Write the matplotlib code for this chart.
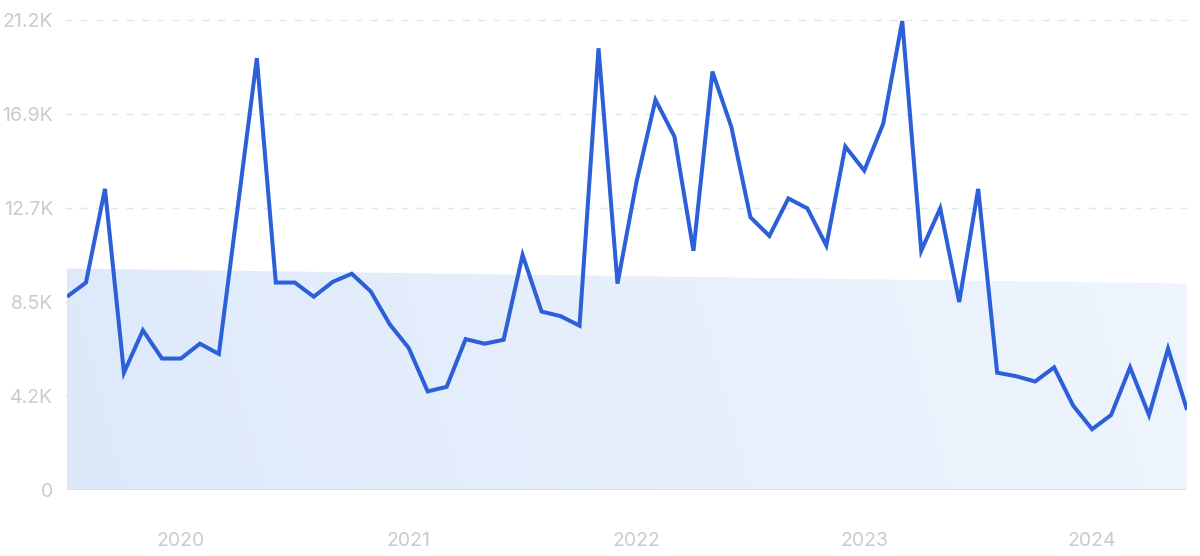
import numpy as np
import matplotlib
matplotlib.use("Agg")
import matplotlib.pyplot as plt
from matplotlib.patches import Polygon
from matplotlib.colors import LinearSegmentedColormap

# ---- data (monthly, Jul 2019 .. Jun 2024) ----
values = [8719, 9357, 13581, 5292, 7205, 5930, 5930, 6599, 6137, 12800,
          19479, 9357, 9357, 8719, 9389, 9755, 8958, 7476, 6408, 4447,
          4654, 6806, 6599, 6775, 10600, 8050, 7842, 7412, 19925, 9309,
          13900, 17598, 15940, 10791, 18873, 16370, 12306, 11461, 13151, 12704,
          11030, 15494, 14410, 16530, 21152, 10791, 12704, 8480, 13581, 5292,
          5133, 4894, 5531, 3810, 2742, 3379, 5531, 3379, 6376, 3618]
trend_ends = [9990, 9310]
year_labels = ["2020", "2021", "2022", "2023", "2024"]
year_month_index = [6, 18, 30, 42, 54]
y_ticks = [0, 4240, 8480, 12720, 16960, 21200]
y_tick_labels = ["0", "4.2K", "8.5K", "12.7K", "16.9K", "21.2K"]

plt.rcParams['font.family'] = ['Inter', 'DejaVu Sans']

fig = plt.figure(figsize=(12, 5.56), dpi=100)
ax = fig.add_axes([67/1200, 1-490/556, (1187-67)/1200, 470/556])

x = np.arange(len(values))
n = len(values) - 1

# gradient trend area
poly = Polygon([(0, 0), (0, trend_ends[0]), (n, trend_ends[1]), (n, 0)],
               closed=True, facecolor='none', edgecolor='none')
ax.add_patch(poly)
cmap = LinearSegmentedColormap.from_list("g", ["#dde9fb", "#e7effc", "#eff5fd"])
grad = np.linspace(0, 1, 256).reshape(1, -1)
yy = np.linspace(0, 1, 64).reshape(-1, 1)
grad2 = np.clip(grad * 0.95 + (1 - yy) * 0.05, 0, 1)
im = ax.imshow(grad2, extent=[0, n, 0, max(trend_ends)], origin='upper',
               aspect='auto', cmap=cmap, zorder=1, interpolation='bilinear')
im.set_clip_path(poly)

# grid lines
for t in y_ticks[1:]:
    ax.plot([-0.1, n + 0.2], [t, t], color='#e1e5ed', lw=1.0,
            dashes=(5, 6), zorder=0.5, clip_on=False)
ax.plot([0, n], [0, 0], color='#d6dce8', lw=1.2, zorder=2)

ax.plot(x, values, color='#2d5fd8', lw=2.9, zorder=3,
        solid_joinstyle='miter', solid_capstyle='butt')

ax.set_xlim(0, n)
ax.set_ylim(0, 21200)
ax.set_yticks(y_ticks)
ax.set_yticklabels(y_tick_labels)
ax.set_xticks(year_month_index)
ax.set_xticklabels(year_labels)
ax.tick_params(axis='both', length=0, labelsize=14, labelcolor='#c8cbd2')
ax.tick_params(axis='y', pad=10)
ax.tick_params(axis='x', pad=30)
for s in ax.spines.values():
    s.set_visible(False)
ax.set_facecolor('none')

fig.savefig("out.png", dpi=100, facecolor='white')
